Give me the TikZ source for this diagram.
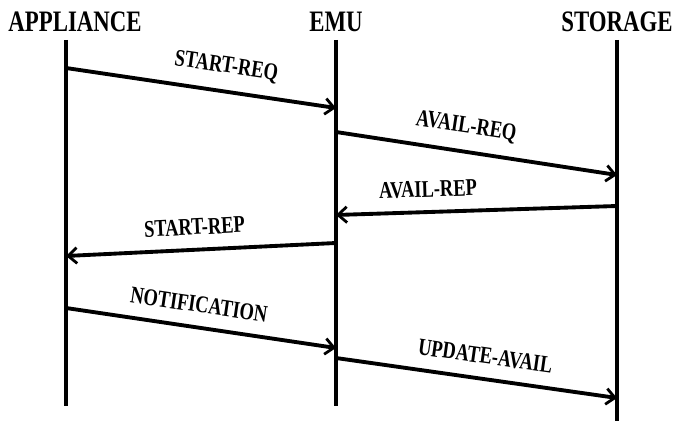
\documentclass[tikz,border=0pt]{standalone}
\usepackage{fontspec}
\setmainfont{Liberation Serif}
\usetikzlibrary{arrows.meta}
\newcommand{\tallbox}[1]{\scalebox{1}[1.3]{#1}}

\begin{document}
\begin{tikzpicture}[x=0.02cm,y=-0.02cm,
  actor/.style={font=\bfseries\fontsize{13}{15}\selectfont},
  lifeline/.style={line width=2.2pt},
  msg/.style={line width=2.2pt,-{Straight Barb[length=5pt,width=9pt,line width=1.6pt]}},
  msglabel/.style={font=\bfseries\fontsize{10.5}{12}\selectfont,sloped,above=4pt}]
\useasboundingbox (0,0) rectangle (673,421);
\node [actor] (appliance) at (75,22) {\tallbox{APPLIANCE}};
\node [actor] (emu) at (336,22) {\tallbox{EMU}};
\node [actor] (storage) at (617,22) {\tallbox{STORAGE}};
\coordinate (a top) at (66,40);
\coordinate (a bottom) at (66,406);
\coordinate (e top) at (336,40);
\coordinate (e bottom) at (336,406);
\coordinate (s top) at (617,40);
\coordinate (s bottom) at (617,421);
\draw [lifeline] (a top) -- (a bottom);
\draw [lifeline] (e top) -- (e bottom);
\draw [lifeline] (s top) -- (s bottom);
% messages
\coordinate (m1 from) at (66,68);   \coordinate (m1 to) at (336,108);
\coordinate (m2 from) at (336,132); \coordinate (m2 to) at (617,175);
\coordinate (m3 from) at (617,206); \coordinate (m3 to) at (336,215);
\coordinate (m4 from) at (336,243); \coordinate (m4 to) at (66,256);
\coordinate (m5 from) at (66,308);  \coordinate (m5 to) at (336,348);
\coordinate (m6 from) at (336,358); \coordinate (m6 to) at (617,398);
\draw [msg] (m1 from) -- node [msglabel,pos=0.58] {\tallbox{START-REQ}} (m1 to);
\draw [msg] (m2 from) -- node [msglabel,pos=0.45] {\tallbox{AVAIL-REQ}} (m2 to);
\draw [msg] (m3 from) -- node [msglabel,pos=0.67] {\tallbox{AVAIL-REP}} (m3 to);
\draw [msg] (m4 from) -- node [msglabel,pos=0.52] {\tallbox{START-REP}} (m4 to);
\draw [msg] (m5 from) -- node [msglabel,pos=0.48] {\tallbox{NOTIFICATION}} (m5 to);
\draw [msg] (m6 from) -- node [msglabel,pos=0.52] {\tallbox{UPDATE-AVAIL}} (m6 to);
\end{tikzpicture}
\end{document}
